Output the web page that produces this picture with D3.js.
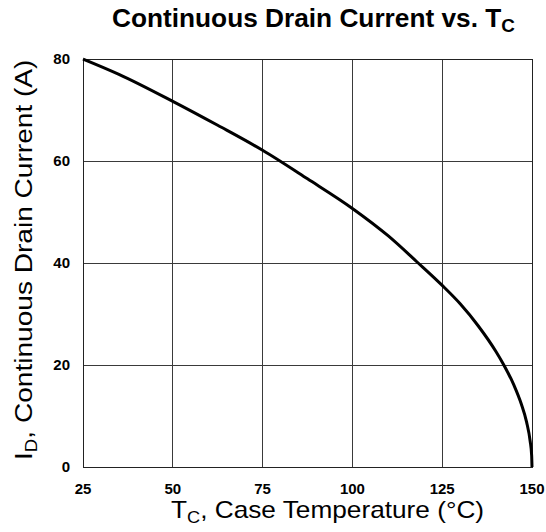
<!DOCTYPE html>
<html>
<head>
<meta charset="utf-8">
<script src="https://cdn.jsdelivr.net/npm/d3@7"></script>
<style>
  body { margin: 0; background: #fff; }
  text { font-family: "Liberation Sans", Arial, sans-serif; }
  .tick-label { font-family: "Liberation Sans Narrow", "Liberation Sans", Arial, sans-serif; }
</style>
</head>
<body>
<div id="chart"></div>
<script>
// values
const caseTemp = [25, 35, 50, 62.5, 75, 87.5, 100, 110, 118, 125, 130, 135, 140, 142, 145, 147, 148.5, 149.5, 149.9, 150];
const drainCurrent = [80, 77, 71.7, 67, 62.1, 56.5, 50.7, 45.3, 40.2, 35.6, 32, 27.7, 22.6, 20.2, 16, 12.4, 8.8, 5, 2.3, 0];
const xTicks = [25, 50, 75, 100, 125, 150];
const yTicks = [0, 20, 40, 60, 80];

const width = 546, height = 532;
const margin = { top: 59, right: 14, bottom: 65, left: 83 };

const svg = d3.select("#chart").append("svg")
    .attr("width", width)
    .attr("height", height);

const x = d3.scaleLinear().domain([25, 150]).range([margin.left, width - margin.right]);
const y = d3.scaleLinear().domain([0, 80]).range([height - margin.bottom, margin.top]);

// grid
svg.append("g")
    .selectAll("line")
    .data(xTicks)
    .join("line")
    .attr("x1", d => x(d)).attr("x2", d => x(d))
    .attr("y1", y(0)).attr("y2", y(80))
    .attr("stroke", "#3a3a3a")
    .attr("stroke-width", 1)
    .attr("shape-rendering", "crispEdges");

svg.append("g")
    .selectAll("line")
    .data(yTicks)
    .join("line")
    .attr("x1", x(25)).attr("x2", x(150))
    .attr("y1", d => y(d)).attr("y2", d => y(d))
    .attr("stroke", "#3a3a3a")
    .attr("stroke-width", 1)
    .attr("shape-rendering", "crispEdges");

svg.append("rect")
    .attr("x", x(25)).attr("y", y(80))
    .attr("width", x(150) - x(25))
    .attr("height", y(0) - y(80))
    .attr("fill", "none")
    .attr("stroke", "#222")
    .attr("shape-rendering", "crispEdges");

// tick labels
svg.append("g")
    .selectAll("text")
    .data(xTicks)
    .join("text")
    .attr("class", "tick-label")
    .attr("x", d => x(d))
    .attr("y", y(0) + 27)
    .attr("text-anchor", "middle")
    .style("font-size", "15px")
    .style("font-weight", "bold")
    .text(d => d);

svg.append("g")
    .selectAll("text")
    .data(yTicks)
    .join("text")
    .attr("class", "tick-label")
    .attr("x", x(25) - 13)
    .attr("y", d => y(d) + 5)
    .attr("text-anchor", "end")
    .style("font-size", "15px")
    .style("font-weight", "bold")
    .text(d => d);

// curve
const pts = caseTemp.map((t, i) => [t, drainCurrent[i]]);
const line = d3.line()
    .x(d => x(d[0]))
    .y(d => y(d[1]))
    .curve(d3.curveMonotoneX);

svg.append("path")
    .datum(pts)
    .attr("d", line)
    .attr("fill", "none")
    .attr("stroke", "#000")
    .attr("stroke-width", 3);

// title
const title = svg.append("text")
    .attr("transform", "translate(112, 27) scale(1.05, 1)")
    .style("font-size", "25px")
    .style("font-weight", "bold");
title.append("tspan").text("Continuous Drain Current vs. T");
title.append("tspan").attr("dy", 5).style("font-size", "18px").text("C");

// x label
const xl = svg.append("text")
    .attr("transform", "translate(171, 518) scale(1.14, 1)")
    .style("font-size", "23px");
xl.append("tspan").text("T");
xl.append("tspan").attr("dy", 5).style("font-size", "16px").text("C");
xl.append("tspan").attr("dy", -5).text(", Case Temperature (°C)");

// y label
const yl = svg.append("text")
    .attr("transform", "translate(32, 460) rotate(-90) scale(1.17, 1)")
    .style("font-size", "24px");
yl.append("tspan").text("I");
yl.append("tspan").attr("dy", 5).style("font-size", "16px").text("D");
yl.append("tspan").attr("dy", -5).text(", Continuous Drain Current (A)");
</script>
</body>
</html>
